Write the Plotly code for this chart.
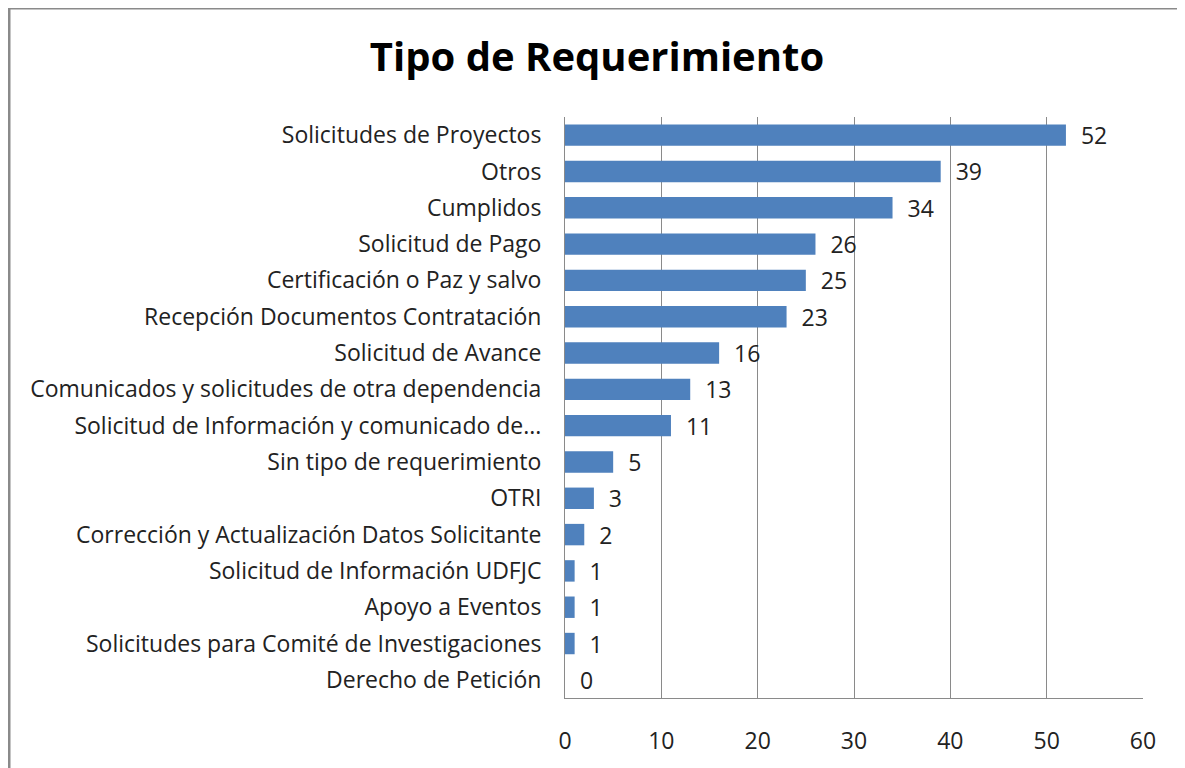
import plotly.graph_objects as go

categories = [
    "Solicitudes de Proyectos",
    "Otros",
    "Cumplidos",
    "Solicitud de Pago",
    "Certificación o Paz y salvo",
    "Recepción Documentos Contratación",
    "Solicitud de Avance",
    "Comunicados y solicitudes de otra dependencia",
    "Solicitud de Información y comunicado de...",
    "Sin tipo de requerimiento",
    "OTRI",
    "Corrección y Actualización Datos Solicitante",
    "Solicitud de Información UDFJC",
    "Apoyo a Eventos",
    "Solicitudes para Comité de Investigaciones",
    "Derecho de Petición",
]
values = [52, 39, 34, 26, 25, 23, 16, 13, 11, 5, 3, 2, 1, 1, 1, 0]
x_ticks = [0, 10, 20, 30, 40, 50, 60]

OFF = 8  # page body margin
W, H = 1185 - OFF, 768 - OFF
L, R, T, B = 565 - OFF, 1143 - OFF, 117 - OFF, 703 - OFF
FS = 23

fig = go.Figure(go.Bar(
    y=categories, x=values, orientation="h",
    marker=dict(color="#4F81BD", line=dict(width=0)),
    text=values, texttemplate="  %{x}", textposition="outside",
    constraintext="none",
    textfont=dict(size=FS, color="#222222", family="Open Sans"),
    cliponaxis=False,
))

pw, ph = R - L, B - T
def px(x):
    return (x - L) / pw
def py(y):
    return (B - y) / ph

fig.update_layout(
    width=W, height=H,
    margin=dict(l=L, r=W - R, t=T, b=H - B),
    paper_bgcolor="white", plot_bgcolor="white",
    bargap=0.41,
    showlegend=False,
    font=dict(family="Open Sans", size=FS, color="#222222"),
    title=dict(text="<b>Tipo de Requerimiento</b>", x=(597 - OFF) / W, xanchor="center",
               xref="container", yref="container", y=1 - (57 - OFF) / H, yanchor="middle",
               font=dict(size=40, family="Open Sans", color="black")),
    xaxis=dict(range=[0, 60], tickvals=x_ticks, showgrid=True, gridcolor="#8A8A8A",
               gridwidth=1, zeroline=False, showline=True, linecolor="#8A8A8A",
               ticks="", ticklabelstandoff=22, tickfont=dict(size=FS)),
    yaxis=dict(autorange="reversed", showgrid=False, zeroline=False, showline=True,
               linecolor="#8A8A8A", ticks="", ticklabelstandoff=18,
               tickfont=dict(size=FS)),
    shapes=[dict(type="rect", xref="paper", yref="paper",
                 x0=px(1), x1=px(1200), y0=py(780), y1=py(-1),
                 line=dict(color="#8A8A8A", width=3), fillcolor="rgba(0,0,0,0)",
                 layer="above")],
)

fig.write_html("out.html")
